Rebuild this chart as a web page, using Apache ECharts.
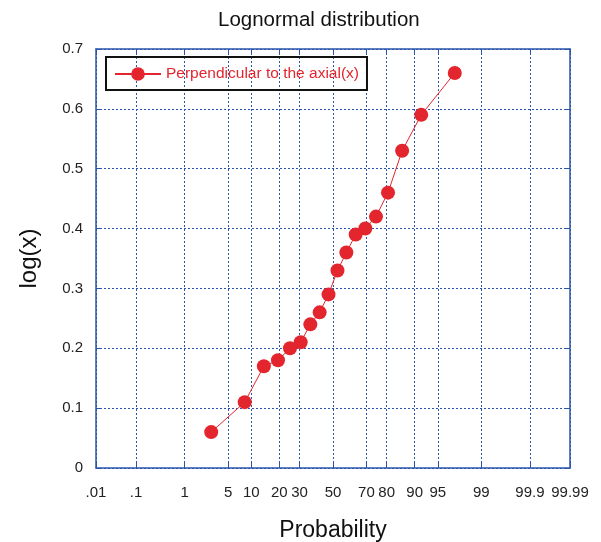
<!DOCTYPE html>
<html><head><meta charset="utf-8">
<script src="https://cdn.jsdelivr.net/npm/echarts@6/dist/echarts.min.js"></script>
<style>html,body{margin:0;padding:0;background:#fff}#c{width:601px;height:542px}</style>
</head><body><div id="c"></div>
<script>
const probability = [2.8, 8.3, 13.9, 19.4, 25, 30.6, 36.1, 41.7, 47.2, 52.8, 58.3, 63.9, 69.4, 75, 80.6, 86.1, 91.7, 97.2];
const logValues = [0.06, 0.11, 0.17, 0.18, 0.20, 0.21, 0.24, 0.26, 0.29, 0.33, 0.36, 0.39, 0.40, 0.42, 0.46, 0.53, 0.59, 0.66];
const probTicks = [0.01, 0.1, 1, 5, 10, 20, 30, 50, 70, 80, 90, 95, 99, 99.9, 99.99];
const probTickLabels = ['.01', '.1', '1', '5', '10', '20', '30', '50', '70', '80', '90', '95', '99', '99.9', '99.99'];
const seriesName = 'Perpendicular to the axial(x)';

// inverse normal CDF (Acklam) — probit scale transform
function probit(p) {
  const a=[-3.969683028665376e+01,2.209460984245205e+02,-2.759285104469687e+02,1.383577518672690e+02,-3.066479806614716e+01,2.506628277459239e+00];
  const b=[-5.447609879822406e+01,1.615858368580409e+02,-1.556989798598866e+02,6.680131188771972e+01,-1.328068155288572e+01];
  const c=[-7.784894002430293e-03,-3.223964580411365e-01,-2.400758277161838e+00,-2.549732539343734e+00,4.374664141464968e+00,2.938163982698783e+00];
  const d=[7.784695709041462e-03,3.224671290700398e-01,2.445134137142996e+00,3.754408661907416e+00];
  const pl=0.02425, ph=1-pl; let q,r;
  if (p<pl){q=Math.sqrt(-2*Math.log(p));return (((((c[0]*q+c[1])*q+c[2])*q+c[3])*q+c[4])*q+c[5])/((((d[0]*q+d[1])*q+d[2])*q+d[3])*q+1);}
  if (p<=ph){q=p-0.5;r=q*q;return (((((a[0]*r+a[1])*r+a[2])*r+a[3])*r+a[4])*r+a[5])*q/(((((b[0]*r+b[1])*r+b[2])*r+b[3])*r+b[4])*r+1);}
  q=Math.sqrt(-2*Math.log(1-p));return -(((((c[0]*q+c[1])*q+c[2])*q+c[3])*q+c[4])*q+c[5])/((((d[0]*q+d[1])*q+d[2])*q+d[3])*q+1);
}
const z = v => probit(v/100);
const tickZ = probTicks.map(z);
const labelMap = {};
tickZ.forEach((t,i)=>{labelMap[t.toFixed(6)] = probTickLabels[i];});
const xMin = z(probTicks[0]), xMax = z(probTicks[probTicks.length-1]);

const AX = '#2b55ad', FONT = 'Liberation Sans, Arial, sans-serif', RED = '#e3262e';
const chart = echarts.init(document.getElementById('c'), null, {renderer:'canvas'});
chart.setOption({
  animation:false,
  textStyle:{fontFamily:FONT},
  title:{text:'Lognormal distribution', left:213, top:5,
    textStyle:{fontFamily:FONT, fontSize:20.5, fontWeight:'normal', color:'#111'}},
  legend:{left:106, top:57, itemWidth:46, itemHeight:17, itemGap:5, padding:[9,8,8,8],
    borderColor:'#111', borderWidth:2, borderRadius:0,
    textStyle:{fontFamily:FONT, fontSize:15.5, color:RED}, data:[seriesName]},
  grid:{left:96, right:31, top:49, bottom:74, outerBoundsMode:'none', containLabel:false},
  xAxis:[{
    type:'value', min:xMin, max:xMax, position:'bottom',
    name:'Probability', nameLocation:'middle', nameGap:51,
    nameTextStyle:{fontFamily:FONT, fontSize:23, color:'#111'},
    axisLine:{show:true, onZero:false, lineStyle:{color:AX, width:1.5}},
    axisTick:{show:true, inside:true, length:5, customValues:tickZ, lineStyle:{color:AX}},
    axisLabel:{customValues:tickZ, margin:17, fontFamily:FONT, fontSize:15, color:'#222',
      formatter:v=>labelMap[v.toFixed(6)] ?? ''},
    splitLine:{show:true, lineStyle:{color:AX, type:[2,2], width:1}}
  },{
    type:'value', min:xMin, max:xMax, position:'top',
    axisLine:{show:true, onZero:false, lineStyle:{color:AX, width:1.5}},
    axisTick:{show:true, inside:true, length:5, customValues:tickZ, lineStyle:{color:AX}},
    axisLabel:{show:false}, splitLine:{show:false}
  }],
  yAxis:[{
    type:'value', min:0, max:0.7, interval:0.1, position:'left',
    name:'log(x)', nameLocation:'middle', nameGap:55, nameRotate:90,
    nameTextStyle:{fontFamily:FONT, fontSize:24, color:'#111'},
    axisLine:{show:true, onZero:false, lineStyle:{color:AX, width:1.5}},
    axisTick:{show:true, inside:true, length:5, lineStyle:{color:AX}},
    axisLabel:{margin:13, fontFamily:FONT, fontSize:15, color:'#222',
      formatter:v=>(Math.round(v*10)/10).toString()},
    splitLine:{show:true, lineStyle:{color:AX, type:[2,2], width:1}}
  },{
    type:'value', min:0, max:0.7, interval:0.1, position:'right',
    axisLine:{show:true, onZero:false, lineStyle:{color:AX, width:1.5}},
    axisTick:{show:true, inside:true, length:5, lineStyle:{color:AX}},
    axisLabel:{show:false}, splitLine:{show:false}
  }],
  series:[{
    name:seriesName, type:'line', xAxisIndex:0, yAxisIndex:0,
    data:probability.map((p,i)=>[z(p), logValues[i]]),
    symbol:'circle', symbolSize:14,
    lineStyle:{color:RED, width:1}, itemStyle:{color:RED}
  }]
});
</script></body></html>
